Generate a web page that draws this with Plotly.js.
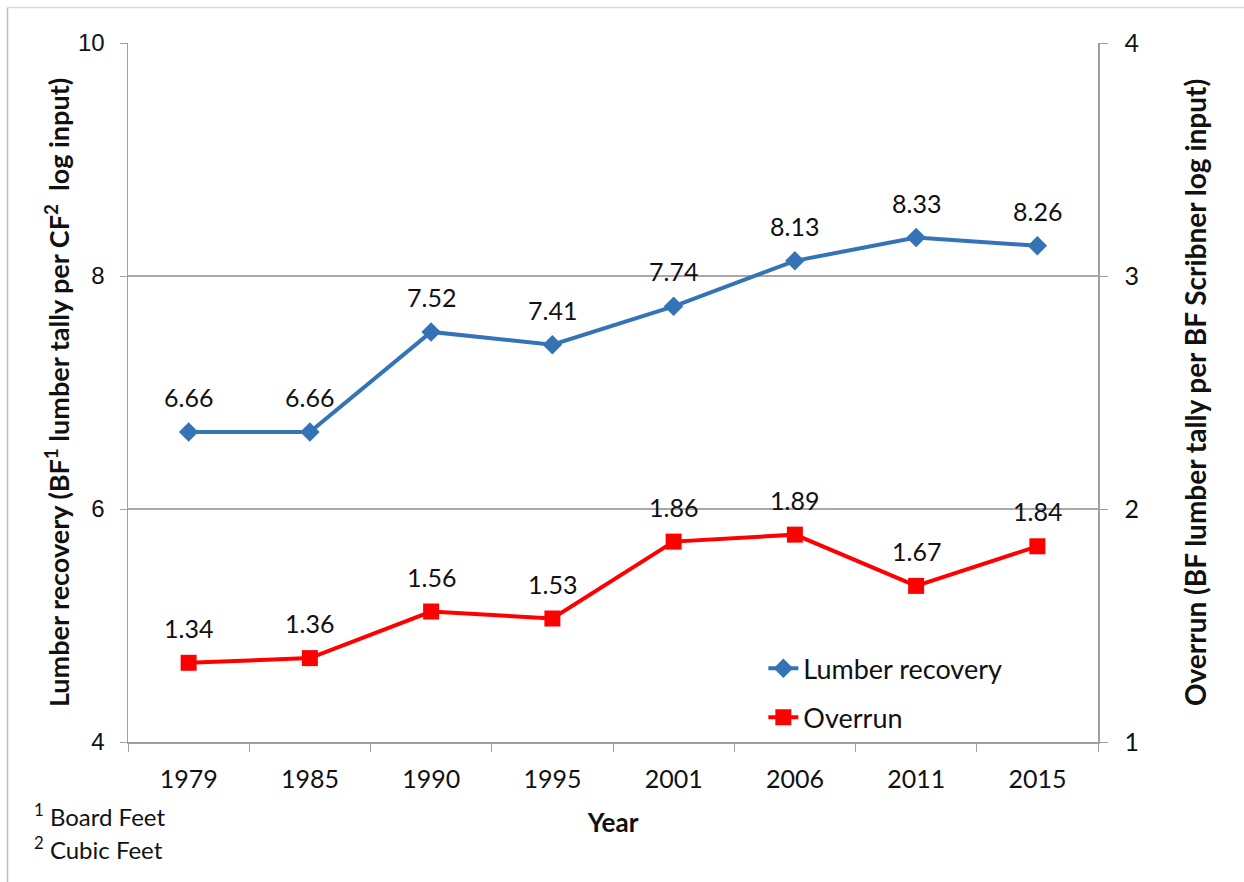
<!DOCTYPE html>
<html>
<head>
<meta charset="utf-8">
<script src="https://cdn.plot.ly/plotly-3.0.1.min.js"></script>
<style>html,body{margin:0;padding:0;background:#fff;}#chart{width:1244px;height:882px;}</style>
</head>
<body>
<div id="chart"></div>
<script>
const years = ["1979","1985","1990","1995","2001","2006","2011","2015"];
const lumberRecovery = [6.66, 6.66, 7.52, 7.41, 7.74, 8.13, 8.33, 8.26];
const overrun = [1.34, 1.36, 1.56, 1.53, 1.86, 1.89, 1.67, 1.84];
const leftTicks = [4, 6, 8, 10];
const rightTicks = [1, 2, 3, 4];

const FONT = "Lato, 'Open Sans', sans-serif";
const BLUE = "#3474B6";
const RED = "#FF0000";

const traces = [
  {
    x: years, y: lumberRecovery, name: "Lumber recovery", type: "scatter", mode: "lines+markers",
    line: {color: BLUE, width: 4}, marker: {symbol: "diamond", size: 15, color: BLUE},
    legendgroup: "a", yaxis: "y"
  },
  {
    x: years, y: overrun, name: "Overrun", type: "scatter", mode: "lines+markers",
    line: {color: RED, width: 4}, marker: {symbol: "square", size: 16, color: RED},
    legendgroup: "b", yaxis: "y2"
  }
];

const annotations = [];
years.forEach((yr, i) => {
  annotations.push({x: i, y: lumberRecovery[i], xref: "x", yref: "y", text: lumberRecovery[i].toFixed(2),
    showarrow: false, yshift: 35, font: {family: FONT, size: 25, color: "#111"}});
  annotations.push({x: i, y: overrun[i], xref: "x", yref: "y2", text: overrun[i].toFixed(2),
    showarrow: false, yshift: 35, font: {family: FONT, size: 25, color: "#111"}});
});
annotations.push({xref: "paper", yref: "paper", x: -0.099, y: -0.105, xanchor: "left", yanchor: "middle",
  text: "<sup>1</sup> Board Feet", showarrow: false, font: {family: FONT, size: 24, color: "#111"}});
annotations.push({xref: "paper", yref: "paper", x: -0.099, y: -0.152, xanchor: "left", yanchor: "middle",
  text: "<sup>2</sup> Cubic Feet", showarrow: false, font: {family: FONT, size: 24, color: "#111"}});

const layout = {
  width: 1244, height: 882,
  margin: {l: 128, r: 146, t: 43, b: 140},
  paper_bgcolor: "#fff", plot_bgcolor: "#fff",
  font: {family: FONT, color: "#111"},
  showlegend: true,
  legend: {x: 0.655, y: 0.14, xanchor: "left", yanchor: "top", bgcolor: "rgba(0,0,0,0)",
    font: {family: FONT, size: 27, color: "#111"}, tracegroupgap: 11, traceorder: "grouped"},
  xaxis: {
    type: "category", range: [-0.5, 7.5], showgrid: false, showline: true, linecolor: "#A0A0A0", linewidth: 1.5,
    ticks: "outside", ticklen: 8, tickcolor: "#A0A0A0", tickson: "boundaries", ticklabelstandoff: 14,
    tickfont: {family: FONT, size: 25, color: "#111"},
    title: {text: "<b>Year</b>", font: {family: FONT, size: 26, color: "#111"}, standoff: 22},
    zeroline: false
  },
  yaxis: {
    range: [4, 10], tickvals: leftTicks, showgrid: true, gridcolor: "#A8A8A8", gridwidth: 1.2,
    showline: true, linecolor: "#A0A0A0", linewidth: 1.5, ticks: "outside", ticklen: 7, tickcolor: "#A0A0A0",
    ticklabelstandoff: 10,
    tickfont: {family: "'Liberation Sans', Arial, sans-serif", size: 24, color: "#111"},
    title: {text: "<b>Lumber recovery (BF<sup>1</sup> lumber tally per CF<sup>2</sup>  log input)</b>",
      font: {family: FONT, size: 27, color: "#111"}, standoff: 0},
    zeroline: false
  },
  yaxis2: {
    overlaying: "y", side: "right", range: [1, 4], tickvals: rightTicks, showgrid: false,
    showline: true, linecolor: "#A0A0A0", linewidth: 1.5, ticks: "outside", ticklen: 8, tickcolor: "#A0A0A0",
    ticklabelstandoff: 12,
    tickfont: {family: FONT, size: 25, color: "#111"},
    title: {text: "<b>Overrun (BF lumber tally per BF Scribner log input)</b>",
      font: {family: FONT, size: 28, color: "#111"}, standoff: 48},
    zeroline: false
  },
  annotations: annotations,
  shapes: [
    {type: "line", xref: "paper", yref: "paper", x0: -0.1242, x1: -0.1242, y0: -0.21, y1: 1.0508,
      line: {color: "#BDBDBD", width: 1.5}},
    {type: "line", xref: "paper", yref: "paper", x0: -0.1242, x1: 1.16, y0: 1.0508, y1: 1.0508,
      line: {color: "#D9D9D9", width: 1.5}}
  ]
};

Plotly.newPlot("chart", traces, layout, {displayModeBar: false, staticPlot: true});
</script>
</body>
</html>
